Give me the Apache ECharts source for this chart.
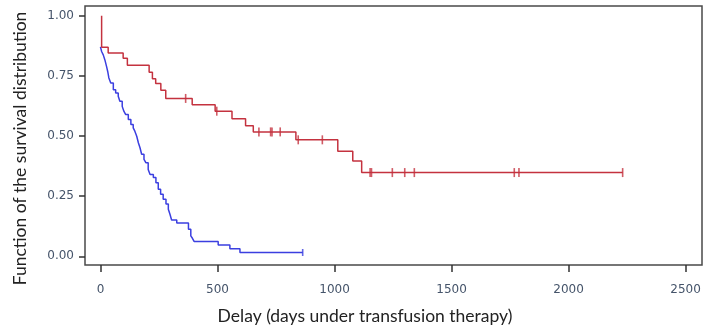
<!DOCTYPE html>
<html>
<head>
    <meta charset="UTF-8">
    <title>Survival distribution</title>
    <script src="https://cdn.jsdelivr.net/npm/echarts@6/dist/echarts.min.js"></script>
    <style>
        html, body { margin: 0; padding: 0; background: #fff; }
    </style>
</head>
<body>
    <div id="main" style="width: 705px; height: 330px;"></div>

    <script>
        // Kaplan-Meier steps (day of drop, survival after drop)
        var redDays = [5, 5, 33, 97, 115, 208, 222, 236, 258, 279, 392, 490, 562, 620, 653, 835, 1014, 1078, 1116, 2231];
        var redSurv = [1.00, 0.869, 0.845, 0.823, 0.794, 0.765, 0.738, 0.718, 0.690, 0.656, 0.630, 0.603, 0.572, 0.543, 0.517, 0.484, 0.437, 0.396, 0.348, 0.348];
        var redCensored = [364, 497, 677, 727, 733, 768, 845, 948, 1152, 1158, 1247, 1300, 1341, 1768, 1788, 2231];

        var blueDays = [0, 5, 12, 19, 26, 31, 36, 44, 55, 65, 76, 83, 93, 100, 108, 119, 130, 140, 147, 155, 162, 169, 176, 186, 194, 204, 212, 226, 237, 247, 257, 268, 280, 290, 297, 304, 326, 376, 386, 393, 400, 503, 553, 596, 864];
        var blueSurv = [0.870, 0.851, 0.837, 0.816, 0.789, 0.768, 0.741, 0.720, 0.692, 0.679, 0.665, 0.644, 0.623, 0.603, 0.589, 0.568, 0.548, 0.534, 0.520, 0.499, 0.472, 0.451, 0.424, 0.403, 0.389, 0.361, 0.340, 0.327, 0.306, 0.279, 0.258, 0.237, 0.217, 0.196, 0.175, 0.151, 0.138, 0.113, 0.085, 0.075, 0.062, 0.047, 0.031, 0.016, 0.016];
        var blueCensored = [864];

        var xTicks = [0, 500, 1000, 1500, 2000, 2500];
        var yTicks = [0, 0.25, 0.5, 0.75, 1];

        function zip(xs, ys) {
            return xs.map(function (x, i) { return [x, ys[i]]; });
        }

        // survival level of a curve at a given day
        function levelAt(days, surv, d) {
            var v = surv[0];
            for (var i = 0; i < days.length; i++) {
                if (days[i] <= d) v = surv[i];
            }
            return v;
        }

        var red = '#c4323f';
        var blue = '#3b3fe0';
        var labelColor = '#45546a';

        var chart = echarts.init(document.getElementById('main'));

        chart.setOption({
            animation: false,
            grid: {
                left: 85, right: 3, top: 6, bottom: 64,
                show: true,
                borderColor: '#4a4a4a',
                borderWidth: 1.5
            },
            xAxis: {
                type: 'value',
                min: -66,
                max: 2570,
                name: 'Delay (days under transfusion therapy)',
                nameLocation: 'middle',
                nameGap: 42,
                // title sits a bit left of the plot centre in the original
                nameTextStyle: { fontFamily: 'Lato', fontSize: 17.5, color: '#222', padding: [0, 57, 0, 0] },
                axisLine: { show: false, onZero: false },
                splitLine: { show: false },
                axisTick: {
                    show: true, length: 7, customValues: xTicks,
                    lineStyle: { color: '#333', width: 1.5 }
                },
                axisLabel: {
                    customValues: xTicks,
                    margin: 19,
                    fontFamily: 'DejaVu Sans',
                    fontSize: 12,
                    color: labelColor,
                    formatter: function (v) { return String(v); }
                }
            },
            yAxis: {
                type: 'value',
                min: -0.036,
                max: 1.04,
                name: 'Function of the survival distribution',
                nameLocation: 'middle',
                nameGap: 56,
                nameTextStyle: { fontFamily: 'Lato', fontSize: 17.5, color: '#222', padding: [0, 26, 0, 0] },
                axisLine: { show: false, onZero: false },
                splitLine: { show: false },
                axisTick: {
                    show: true, length: 6, customValues: yTicks,
                    lineStyle: { color: '#333', width: 1.5 }
                },
                axisLabel: {
                    customValues: yTicks,
                    margin: 11,
                    fontFamily: 'DejaVu Sans',
                    fontSize: 12,
                    color: labelColor,
                    formatter: function (v) { return v.toFixed(2); }
                }
            },
            series: [
                {
                    type: 'line',
                    step: 'end',
                    data: zip(redDays, redSurv),
                    showSymbol: false,
                    lineStyle: { color: red, width: 1.5 },
                    z: 3
                },
                {
                    type: 'line',
                    step: 'end',
                    data: zip(blueDays, blueSurv),
                    showSymbol: false,
                    lineStyle: { color: blue, width: 1.5 },
                    z: 2
                },
                {
                    type: 'scatter',
                    data: redCensored.map(function (d) { return [d, levelAt(redDays, redSurv, d)]; }),
                    symbol: 'rect',
                    symbolSize: [1.6, 9],
                    itemStyle: { color: red },
                    z: 4
                },
                {
                    type: 'scatter',
                    data: blueCensored.map(function (d) { return [d, levelAt(blueDays, blueSurv, d)]; }),
                    symbol: 'rect',
                    symbolSize: [1.6, 7],
                    itemStyle: { color: blue },
                    z: 4
                }
            ]
        });
    </script>
</body>
</html>
